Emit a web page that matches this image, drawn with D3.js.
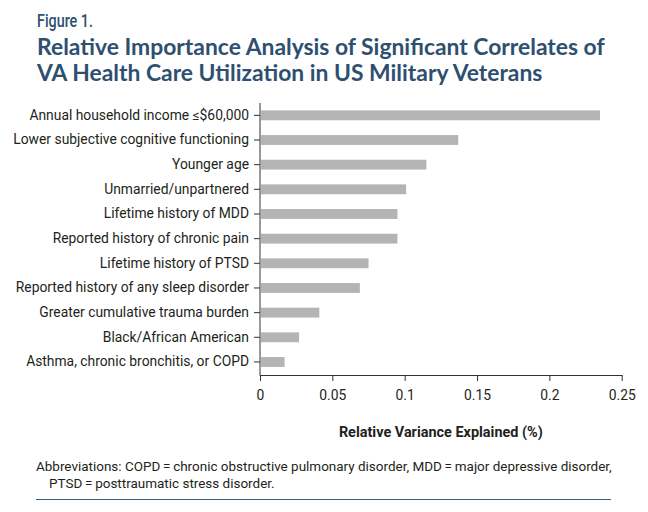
<!DOCTYPE html>
<html>
<head>
<meta charset="utf-8">
<title>Figure 1</title>
<script src="https://d3js.org/d3.v7.min.js"></script>
<style>
    body { margin: 0; background: #fff; }
    svg { display: block; }
    .lbl { font-family: Roboto, sans-serif; fill: #231f20; }
</style>
</head>
<body>
<svg id="chart" width="648" height="512"></svg>
<script>
    'use strict';

    const categories = [
        "Annual household income \u2264$60,000",
        "Lower subjective cognitive functioning",
        "Younger age",
        "Unmarried/unpartnered",
        "Lifetime history of MDD",
        "Reported history of chronic pain",
        "Lifetime history of PTSD",
        "Reported history of any sleep disorder",
        "Greater cumulative trauma burden",
        "Black/African American",
        "Asthma, chronic bronchitis, or COPD"
    ];
    const values = [0.235, 0.137, 0.115, 0.101, 0.095, 0.095, 0.075, 0.069, 0.041, 0.027, 0.017];
    const xTicks = [0, 0.05, 0.1, 0.15, 0.2, 0.25];
    const xTickLabels = ["0", "0.05", "0.1", "0.15", "0.2", "0.25"];

    const titleColor = "#2e5070";
    const svg = d3.select("#chart");

    // scale a text's font size so it spans the wanted width
    function fitSize(sel, width) {
        const size = parseFloat(sel.style("font-size"));
        const w = sel.node().getComputedTextLength();
        return size * width / w;
    }

    // heading
    svg.append("text")
        .attr("x", 37).attr("y", 27)
        .style("font-family", "Roboto, sans-serif")
        .style("font-weight", "500")
        .style("font-size", "19px")
        .style("fill", titleColor)
        .attr("textLength", 56)
        .attr("lengthAdjust", "spacingAndGlyphs")
        .text("Figure 1.");

    const titleLines = [
        "Relative Importance Analysis of Significant Correlates of",
        "VA Health Care Utilization in US Military Veterans"
    ];
    const title = svg.selectAll("text.title")
        .data(titleLines)
        .join("text")
        .attr("class", "title")
        .attr("x", 37)
        .attr("y", (d, i) => 55 + i * 26)
        .style("font-family", "Lato, sans-serif")
        .style("font-weight", "700")
        .style("font-size", "21px")
        .style("fill", titleColor)
        .text(d => d);
    const titleSize = fitSize(title.filter((d, i) => i === 0), 568);
    title.style("font-size", titleSize + "px");

    const x = d3.scaleLinear().domain([0, 0.25]).range([260, 621.7]);
    const y = d3.scaleBand().domain(categories).range([103, 374.3])
        .paddingInner(0.6).paddingOuter(0.3);

    // bars
    svg.append("g")
        .selectAll("rect")
        .data(values)
        .join("rect")
        .attr("x", x(0) + 1)
        .attr("y", (d, i) => y(categories[i]))
        .attr("width", d => x(d) - x(0) - 1)
        .attr("height", y.bandwidth())
        .attr("fill", "#b4b4b4");

    // y axis
    const yAxis = svg.append("g")
        .attr("transform", `translate(${x(0)},0)`)
        .call(d3.axisLeft(y).tickSize(6).tickPadding(5).tickSizeOuter(0));
    yAxis.select(".domain").attr("stroke", "#333").attr("d", `M0,103V375.5`);
    yAxis.selectAll(".tick line").attr("stroke", "#333");
    const yLabels = yAxis.selectAll(".tick text").attr("class", "lbl").attr("fill", null)
        .style("font-size", "13px");
    const labelSize = fitSize(yLabels.filter((d, i) => i === 1), 236);
    yLabels.style("font-size", labelSize + "px");

    // x axis
    const xAxis = svg.append("g")
        .attr("transform", "translate(0,375)")
        .call(d3.axisBottom(x).tickValues(xTicks)
            .tickFormat((d, i) => xTickLabels[i])
            .tickSize(6).tickPadding(9).tickSizeOuter(0));
    xAxis.select(".domain").attr("stroke", "#333");
    xAxis.selectAll(".tick line").attr("stroke", "#333");
    xAxis.selectAll(".tick text").attr("class", "lbl").attr("fill", null)
        .style("font-size", labelSize + "px");

    const axisTitle = svg.append("text")
        .attr("x", (x(0) + x(0.25)) / 2)
        .attr("y", 437)
        .attr("text-anchor", "middle")
        .style("font-family", "Roboto, sans-serif")
        .style("font-weight", "700")
        .style("font-size", "13px")
        .style("fill", "#231f20")
        .text("Relative Variance Explained (%)");
    axisTitle.style("font-size", fitSize(axisTitle, 204) + "px");

    // footnote
    const notes = [
        "Abbreviations: COPD\u2009=\u2009chronic obstructive pulmonary disorder, MDD\u2009=\u2009major depressive disorder,",
        "PTSD\u2009=\u2009posttraumatic stress disorder."
    ];
    const note = svg.selectAll("text.note")
        .data(notes)
        .join("text")
        .attr("class", "note lbl")
        .attr("x", (d, i) => i === 0 ? 36 : 49)
        .attr("y", (d, i) => 471 + i * 17)
        .style("font-size", "12.5px")
        .text(d => d);
    note.style("font-size", fitSize(note.filter((d, i) => i === 0), 576) + "px");

    svg.append("line")
        .attr("x1", 36).attr("x2", 611)
        .attr("y1", 499.5).attr("y2", 499.5)
        .attr("stroke", "#3d5c77")
        .attr("stroke-width", 1.2);
</script>
</body>
</html>
